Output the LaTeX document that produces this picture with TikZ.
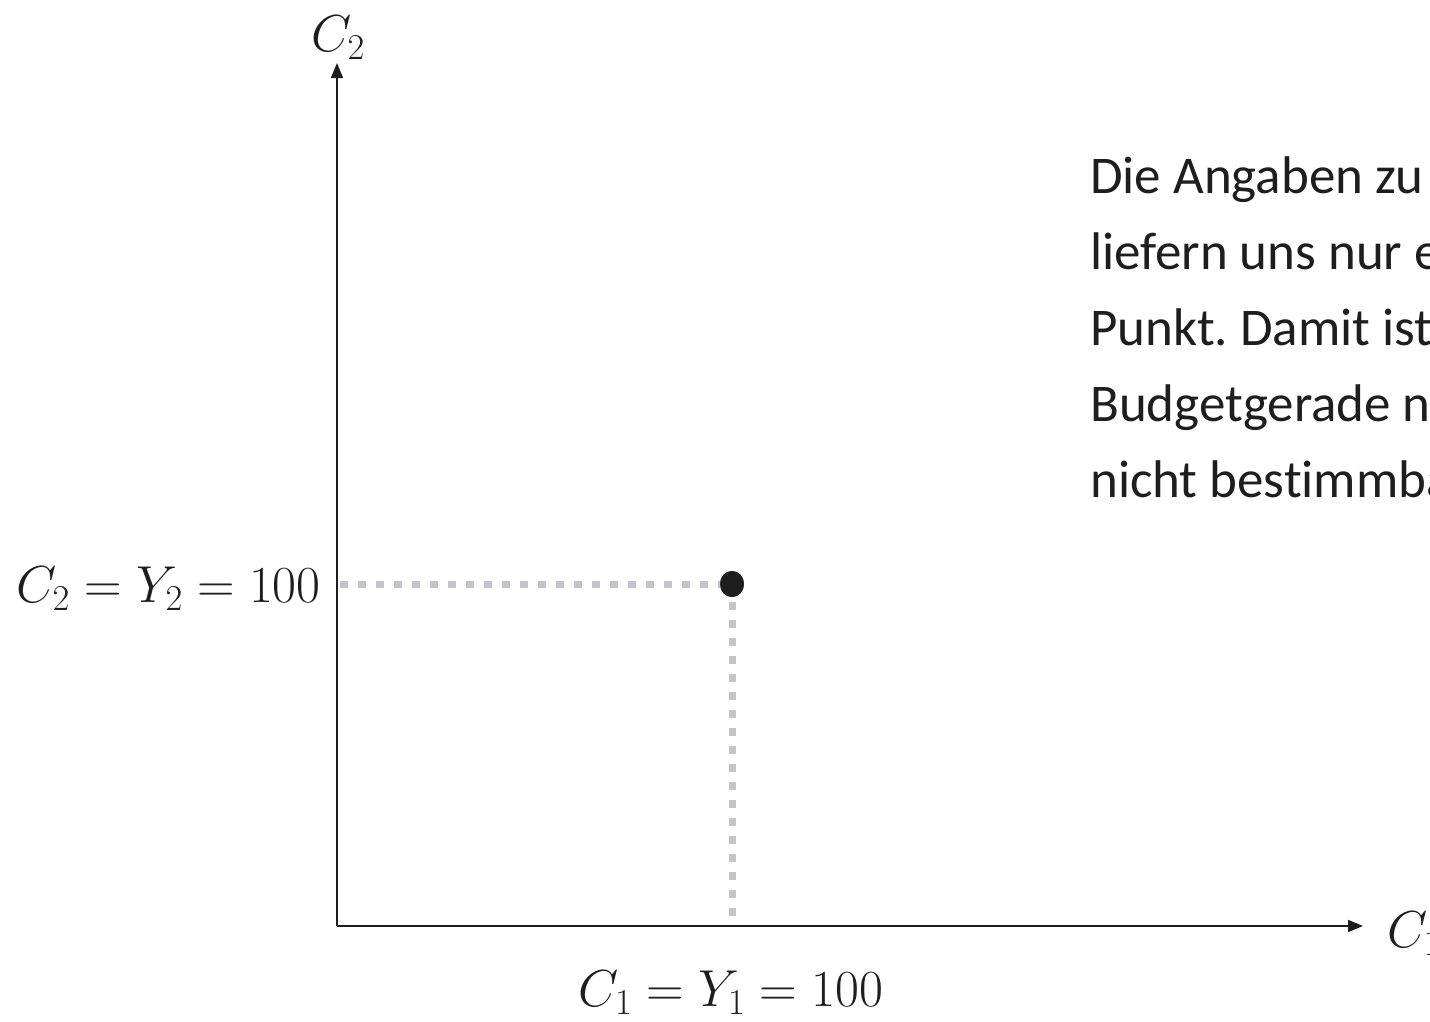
\RequirePackage{fix-cm}
\documentclass[tikz,border=0pt]{standalone}
\usepackage{fontspec}
\setmainfont[Ligatures={NoCommon}]{Carlito}
\usetikzlibrary{arrows.meta,shapes.geometric}
\definecolor{dotgray}{HTML}{C3C3CB}
\definecolor{ink}{HTML}{1E1E1E}
\tikzset{
  axis/.style={draw=ink, line width=1.6pt, -{Triangle[length=15pt,width=12pt]}},
  guide/.style={draw=dotgray, line width=7pt, dash pattern=on 8pt off 10pt},
  mathlbl/.style={font=\fontsize{52}{60}\selectfont, inner sep=0pt, text=ink},
  pointdot/.style={ellipse, fill=ink, minimum width=24pt, minimum height=26pt, inner sep=0pt},
  infotext/.style={font=\fontsize{53}{76}\selectfont, align=left, anchor=north west, inner sep=0pt, text=ink}
}
\frenchspacing
\begin{document}
\begin{tikzpicture}[x=1pt,y=-1pt]
\useasboundingbox (0,0) rectangle (1430,1021);
\coordinate (O) at (337,926);
\coordinate (ytop) at (337,63);
\coordinate (xend) at (1363,926);
\coordinate (ymark) at (340,584);
\coordinate (xmark) at (732,926);
\node[pointdot] (P) at (732,584) {};
% guides
\draw[guide] (ymark) -- (P.center);
\draw[guide] (P.center) -- (xmark);
\node[pointdot] (P2) at (P) {};
% axes
\draw[axis] (O) -- (ytop);
\draw[axis] (O) -- (xend);
% labels
\node[mathlbl] (c2ax) at (338,38) {$C_2$};
\node[mathlbl, anchor=west] (c1ax) at (1387,934) {$C_1$};
\node[mathlbl, anchor=east] (ylbl) at (321,589) {$C_2 = Y_2 = 100$};
\node[mathlbl] (xlbl) at (731,993) {$C_1 = Y_1 = 100$};
\node[infotext] (info) at (1090,156) {Die Angaben zu\\liefern uns nur ein\\Punkt. Damit ist\\Budgetgerade noch\\nicht bestimmbar.};
\end{tikzpicture}
\end{document}
